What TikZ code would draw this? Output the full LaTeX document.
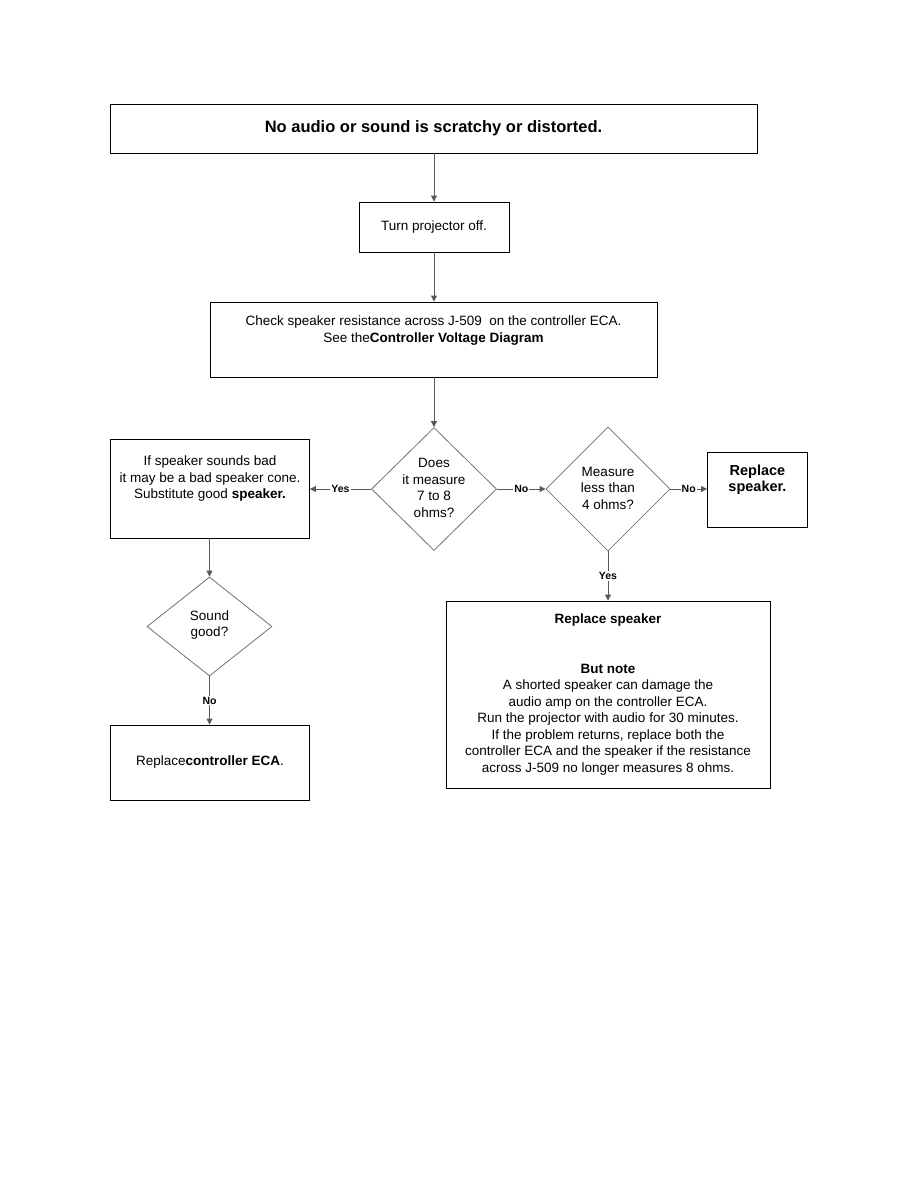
\documentclass[tikz,border=0pt]{standalone}
\usepackage{fontspec}
\setmainfont{Liberation Sans}
\usetikzlibrary{shapes.geometric,arrows.meta}
\definecolor{linegray}{gray}{0.35}
\definecolor{dgray}{gray}{0.45}
\tikzset{
  box/.style={draw=black, line width=0.9pt, inner sep=0pt, align=center, font=\fontsize{13.5}{16.5}\selectfont},
  dia/.style={diamond, draw=dgray, line width=0.8pt, inner sep=0pt, shape aspect=1},
  txt/.style={inner sep=0pt, align=center, font=\fontsize{13.5}{16.5}\selectfont},
  conn/.style={draw=linegray, line width=0.9pt, -{Triangle[length=6pt,width=6pt]}},
  lab/.style={fill=white, inner sep=1pt, font=\fontsize{10.5}{11}\selectfont\bfseries}
}
\begin{document}
\begin{tikzpicture}[x=1pt,y=-1pt]
\useasboundingbox[fill=white] (0,0) rectangle (918,1188);

% boxes
\node[box, minimum width=647pt, minimum height=49pt, font=\fontsize{16.5}{18}\selectfont\bfseries] (title) at (433.5,128.5) {No audio or sound is scratchy or distorted.};
\node[box, minimum width=150pt, minimum height=50pt] (turn) at (434,227) {Turn projector off.};
\node[box, minimum width=447pt, minimum height=75pt] (check) at (433.5,339.5) {};
\node[txt] (checkt) at (433.5,330.5) {Check speaker resistance across J-509\ \ on the controller ECA.\\See the\textbf{Controller Voltage Diagram}};
\node[dia, minimum width=125pt, minimum height=123pt] (d1) at (434,489) {};
\node[txt] (d1t) at (434,488) {Does\\it measure\\7 to 8\\ohms?};
\node[box, minimum width=199pt, minimum height=99pt] (sub) at (210,488.5) {};
\node[txt] (subt) at (210,479) {If speaker sounds bad\\it may be a bad speaker cone.\\Substitute good \textbf{speaker.}};
\node[dia, minimum width=124pt, minimum height=124pt] (d2) at (608,489) {};
\node[txt] (d2t) at (608,488) {Measure\\less than\\4 ohms?};
\node[box, minimum width=100pt, minimum height=75pt] (rep) at (757.5,489.5) {};
\node[txt, font=\fontsize{14.5}{16.5}\selectfont\bfseries] (rept) at (757.5,479.5) {Replace\\speaker.};
\node[box, minimum width=324pt, minimum height=187pt] (note) at (608,694.5) {\textbf{Replace speaker}\\[16.5pt] \\ \textbf{But note}\\A shorted speaker can damage the\\audio amp on the controller ECA.\\Run the projector with audio for 30 minutes.\\If the problem returns, replace both the\\controller ECA and the speaker if the resistance\\across J-509 no longer measures 8 ohms.};
\node[dia, minimum width=125pt, minimum height=99pt] (d3) at (209.5,626.5) {};
\node[txt] (d3t) at (209.5,625) {Sound\\good?};
\node[box, minimum width=199pt, minimum height=75pt] (ctrl) at (210,762.5) {Replace\textbf{controller ECA}.};

% connectors
\draw[conn] (title.south -| turn.north) -- (turn.north);
\draw[conn] (turn.south) -- (check.north -| turn.south);
\draw[conn] (check.south -| d1.north) -- (d1.north);
\draw[conn] (d1.west) -- node[lab]{Yes} (sub.east |- d1.west);
\draw[conn] (d1.east) -- node[lab]{No} (d2.west);
\draw[conn] (d2.east) -- node[lab]{No} (rep.west |- d2.east);
\draw[conn] (d2.south) -- node[lab]{Yes} (note.north -| d2.south);
\draw[conn] (sub.south -| d3.north) -- (d3.north);
\draw[conn] (d3.south) -- node[lab]{No} (ctrl.north -| d3.south);
\end{tikzpicture}
\end{document}
